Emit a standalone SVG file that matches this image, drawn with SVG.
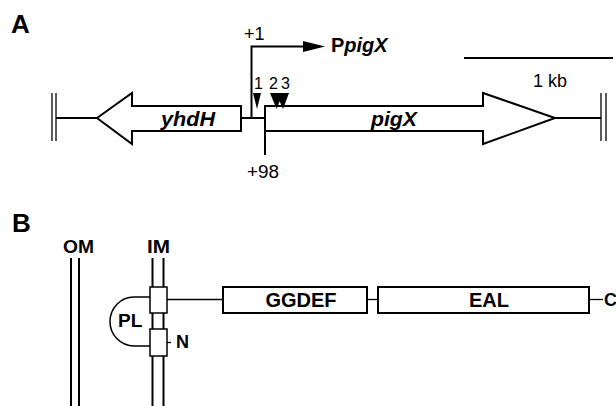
<svg xmlns="http://www.w3.org/2000/svg" width="616" height="406" viewBox="0 0 616 406">
<style>
text{font-family:"Liberation Sans",Arial,sans-serif;fill:#000}
.b{font-weight:bold}
.bi{font-weight:bold;font-style:italic}
.ln{stroke:#000;stroke-width:2;fill:none}
.thin{stroke:#000;stroke-width:1.3;fill:none}
.gene{fill:#fff;stroke:#000;stroke-width:2;stroke-linejoin:miter}
.box{fill:#fff;stroke:#000;stroke-width:2}
.sbox{fill:#fff;stroke:#000;stroke-width:1.5}
.tri{fill:#000}
</style>
<rect width="616" height="406" fill="#fff"/>
<!-- Panel A -->
<text class="b" x="11" y="33" font-size="26">A</text>
<g id="connectors">
  <line class="ln" x1="56" y1="118" x2="97" y2="118"/>
  <line class="ln" x1="241" y1="118" x2="265" y2="118"/>
  <line class="ln" x1="555" y1="118" x2="601" y2="118"/>
  <polyline class="ln" points="251.5,118 251.5,46.5 305,46.5"/>
  <polygon class="tri" points="303,41 325,46.5 303,52"/>
  <line class="ln" x1="265" y1="106" x2="265" y2="155"/>
  <line class="thin" x1="167" y1="299.5" x2="223" y2="299.5"/>
  <line class="thin" x1="367" y1="299.5" x2="378" y2="299.5"/>
  <line class="thin" x1="589" y1="299.5" x2="603" y2="299.5"/>
  <line class="thin" x1="167" y1="342.5" x2="171" y2="342.5"/>
</g>
<g id="left-end">
  <line class="thin" x1="52" y1="93" x2="52" y2="141"/>
  <line class="thin" x1="56" y1="93" x2="56" y2="141"/>
</g>
<g id="right-end">
  <line class="thin" x1="601" y1="93" x2="601" y2="141"/>
  <line class="thin" x1="606" y1="93" x2="606" y2="141"/>
</g>
<g id="yhdH">
  <polygon class="gene" points="97,118 132,93 132,106 241,106 241,131 132,131 132,144"/>
  <text class="bi" x="188" y="126" font-size="20" text-anchor="middle" textLength="54" lengthAdjust="spacingAndGlyphs">yhdH</text>
</g>
<g id="pigX">
  <polygon class="gene" points="265,106 483,106 483,93 555,118 483,144 483,131 265,131"/>
  <text class="bi" x="394" y="126" font-size="20" text-anchor="middle" textLength="46" lengthAdjust="spacingAndGlyphs">pigX</text>
</g>
<g id="promoter">
  <text x="244" y="40" font-size="18">+1</text>
  <text class="b" x="331" y="52" font-size="20">P<tspan class="bi">pigX</tspan></text>
</g>
<g id="pos98">
  <text x="247" y="178" font-size="18" textLength="32" lengthAdjust="spacingAndGlyphs">+98</text>
</g>
<g id="sites">
  <text x="254" y="89" font-size="16">1</text>
  <text x="269" y="89" font-size="16">2</text>
  <text x="281" y="89" font-size="16">3</text>
  <polygon class="tri" points="253,93 261,93 257,109"/>
  <polygon class="tri" points="270,93 283,93 276.5,109"/>
  <polygon class="tri" points="276,93 289,93 283,109"/>
</g>
<g id="scale">
  <line class="ln" x1="464" y1="58" x2="613" y2="58"/>
  <text x="550" y="87" font-size="18" text-anchor="middle">1 kb</text>
</g>
<!-- Panel B -->
<text class="b" x="12" y="232" font-size="26">B</text>
<g id="OM">
  <text class="b" x="63" y="253" font-size="18" textLength="31" lengthAdjust="spacingAndGlyphs">OM</text>
  <line class="ln" x1="71" y1="258" x2="71" y2="406"/>
  <line class="ln" x1="79" y1="258" x2="79" y2="406"/>
</g>
<g id="IM">
  <text class="b" x="147" y="253" font-size="18" textLength="23" lengthAdjust="spacingAndGlyphs">IM</text>
  <line class="ln" x1="152.5" y1="258" x2="152.5" y2="406"/>
  <line class="ln" x1="163.5" y1="258" x2="163.5" y2="406"/>
</g>
<g id="PL">
  <path class="sbox" d="M150,297 H134 A24,24.5 0 0 0 134,346 H150" fill="none"/>
  <text class="b" x="118" y="327" font-size="19">PL</text>
</g>
<g id="TM1">
  <rect class="sbox" x="150" y="287" width="17" height="26"/>
</g>
<g id="TM2">
  <rect class="sbox" x="150" y="329" width="17" height="27"/>
  <text class="b" x="176" y="348" font-size="18">N</text>
</g>
<g id="GGDEF">
  <rect class="box" x="223" y="287" width="144" height="26"/>
  <text class="b" x="301" y="307" font-size="20" text-anchor="middle">GGDEF</text>
</g>
<g id="EAL">
  <rect class="box" x="378" y="287" width="211" height="26"/>
  <text class="b" x="489" y="307" font-size="20" text-anchor="middle">EAL</text>
</g>
<g id="Cterm">
  <text class="b" x="604" y="306" font-size="18">C</text>
</g>
</svg>
